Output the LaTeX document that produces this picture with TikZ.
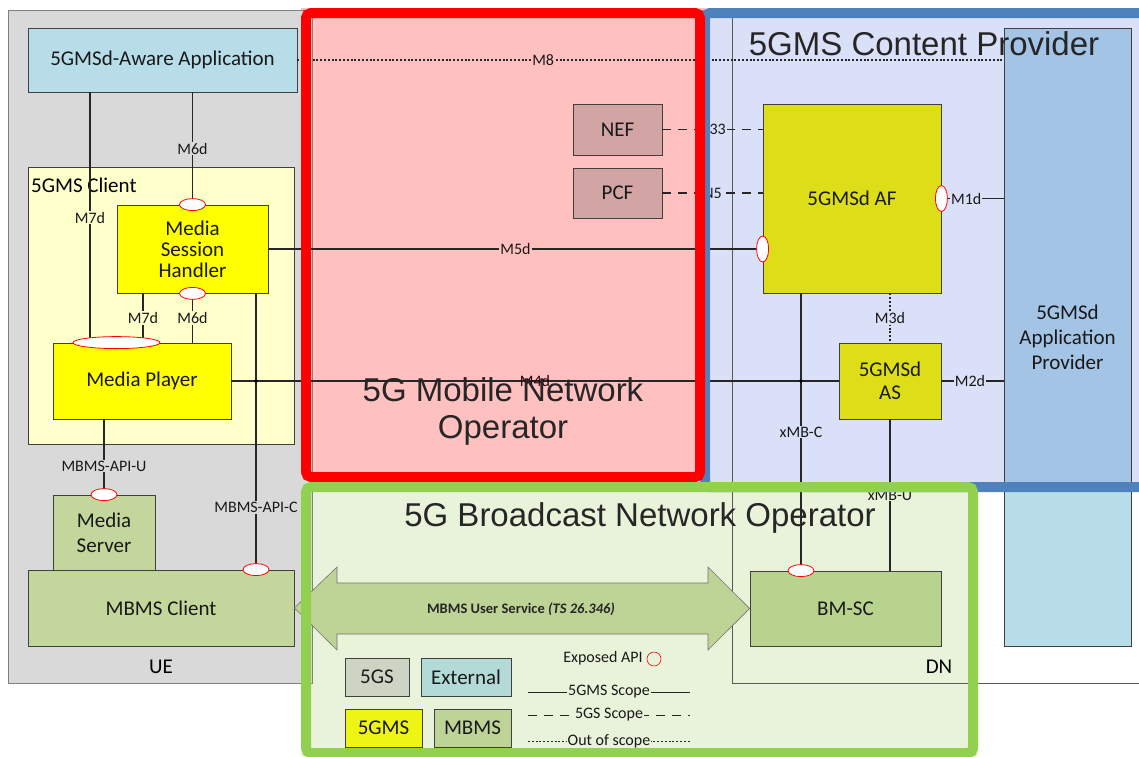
\documentclass[tikz,border=0pt]{standalone}
\usepackage{fontspec}
\setmainfont{Carlito}
\newfontfamily\arialf{Liberation Sans}
\usetikzlibrary{shapes.geometric}
\definecolor{uegray}{RGB}{217,217,217}
\definecolor{uebord}{RGB}{128,128,128}
\definecolor{appblue}{RGB}{183,221,232}
\definecolor{clientyel}{RGB}{255,255,204}
\definecolor{yel}{RGB}{255,255,0}
\definecolor{mbmsgreen}{RGB}{195,214,155}
\definecolor{pinkbg}{RGB}{255,192,192}
\definecolor{bluebg}{RGB}{218,224,248}
\definecolor{greenbg}{RGB}{232,243,218}
\definecolor{redb}{RGB}{255,0,0}
\definecolor{blueb}{RGB}{79,129,189}
\definecolor{greenb}{RGB}{146,208,80}
\definecolor{nefc}{RGB}{210,164,164}
\definecolor{afc}{RGB}{222,222,24}
\definecolor{apc}{RGB}{163,196,228}
\definecolor{bmscc}{RGB}{184,211,142}
\definecolor{arrowc}{RGB}{190,212,150}
\definecolor{leggs}{RGB}{205,212,195}
\definecolor{legext}{RGB}{180,218,215}
\definecolor{leggms}{RGB}{238,245,20}
\definecolor{legmbms}{RGB}{190,212,150}
\begin{document}
\begin{tikzpicture}[x=1pt,y=-1pt,
  box/.style={draw=black!75, line width=0.8pt, inner sep=0pt, align=center, font=\fontsize{21}{21}\selectfont, text=black!90},
  lbl/.style={font=\fontsize{16}{16}\selectfont, inner sep=1pt, text=black!90},
  conn/.style={line width=1.3pt, draw=black!85},
  dotline/.style={line width=1.2pt, draw=black!85, dash pattern=on 2pt off 1.8pt},
  dashline/.style={line width=1.3pt, draw=black!85, dash pattern=on 9pt off 7pt},
  api/.style={ellipse, draw=red, fill=white, line width=0.8pt, inner sep=0pt, minimum width=26pt, minimum height=12pt},
  title/.style={font=\arialf\fontsize{33}{37}\selectfont, text=black!85, align=center, inner sep=0pt}
]
\useasboundingbox (0,0) rectangle (1139,756);
\fill[white] (0,0) rectangle (1139,756);

% region fills
\fill[bluebg] (700,8) rectangle (1139,492);
\fill[pinkbg] (301,8) rectangle (705,482);
\fill[greenbg] (301,482) rectangle (978,756);

% UE and DN
\draw[fill=uegray, draw=uebord, line width=0.8pt] (8,10) rectangle (312,683);
\node[font=\fontsize{21}{21}\selectfont] (ue) at (161,667) {UE};
\draw[draw=black!65, line width=0.8pt] (732,10) -- (732,683) -- (1139,683);
\node[font=\fontsize{21}{21}\selectfont] (dn) at (939,667) {DN};

% nodes
\node[box, fill=appblue, minimum width=269, minimum height=64] (app) at (162.5,60) {5GMSd-Aware Application};
\node[box, fill=clientyel, minimum width=266, minimum height=277] (client) at (161,305.5) {};
\node[anchor=west, font=\fontsize{21}{21}\selectfont, inner sep=0pt] (clientlbl) at (31,185) {5GMS Client};
\node[box, fill=yel, minimum width=151, minimum height=88] (msh) at (192.5,249) {Media\\Session\\Handler};
\node[box, fill=yel, minimum width=178, minimum height=76] (mp) at (142,381) {Media Player};
\node[box, fill=mbmsgreen, minimum width=102, minimum height=75, font=\fontsize{21}{25}\selectfont] (ms) at (104,532.5) {Media\\Server};
\node[box, fill=mbmsgreen, minimum width=266, minimum height=76] (mc) at (161,608) {MBMS Client};
\node[box, fill=nefc, minimum width=89, minimum height=51] (nef) at (617.5,129.5) {NEF};
\node[box, fill=nefc, minimum width=89, minimum height=50] (pcf) at (617.5,193) {PCF};
\node[box, fill=afc, minimum width=178, minimum height=189] (af) at (852,198.5) {5GMSd AF};
\node[box, fill=afc, minimum width=102, minimum height=76, font=\fontsize{21}{23}\selectfont] (as) at (890,381) {5GMSd\\AS};
\fill[appblue] (1004,28) rectangle (1131,646);
\fill[apc] (1004,28) rectangle (1131,487);
\node[box, minimum width=127, minimum height=618, font=\fontsize{21}{25}\selectfont] (ap) at (1067.5,337) {5GMSd\\Application\\Provider};
\node[box, fill=bmscc, minimum width=191, minimum height=75] (bmsc) at (845.5,608.5) {BM-SC};

% connectors
\coordinate (c90) at (90,0);
\coordinate (c143) at (143,0);
\coordinate (c256) at (256,0);
\coordinate (c801) at (801,0);
\draw[dotline] (app.east) -- (ap.west |- app.east) node[lbl, fill=pinkbg, pos=0.348] {M8};
\draw[conn] (app.south -| c90) -- (mp.north -| c90) node[lbl, fill=clientyel, pos=0.5] {M7d};
\draw[conn] (app.south -| msh.north) -- (msh.north) node[lbl, fill=uegray, midway] {M6d};
\draw[conn] (msh.south -| c143) -- (mp.north -| c143) node[lbl, fill=clientyel, midway] {M7d};
\draw[conn] (msh.south) -- (mp.north -| msh.south) node[lbl, fill=clientyel, midway] {M6d};
\draw[conn] (msh.east) -- (af.west |- msh.east) node[lbl, fill=pinkbg, midway] {M5d};
\draw[conn] (msh.south -| c256) -- (mc.north -| c256) node[lbl, fill=uegray, pos=0.776] {MBMS-API-C};
\draw[conn] (mp.east) -- (as.west) node[lbl, midway, text=black!80!red] {M4d};
\draw[conn] (mp.south -| ms.north) -- (ms.north) node[lbl, fill=uegray, pos=0.62] {MBMS-API-U};
\draw[conn] (af.south -| c801) -- (bmsc.north -| c801) node[lbl, fill=bluebg, midway] {xMB-C};
\draw[dotline] (af.south -| as.north) -- (as.north) node[lbl, fill=bluebg, midway] {M3d};
\draw[conn] (as.south) -- (bmsc.north -| as.south) node[lbl, fill=greenbg, midway] {xMB-U};
\draw[conn] (af.east) -- (ap.west |- af.east) node[lbl, fill=bluebg, pos=0.4] {M1d};
\draw[conn] (as.east) -- (ap.west |- as.east) node[lbl, fill=bluebg, pos=0.46] {M2d};
\draw[dashline] (nef.east) -- (af.west |- nef.east) node[lbl, fill=bluebg, midway] {N33};
\draw[dashline] (pcf.east) -- (af.west |- pcf.east) node[lbl, fill=bluebg, midway] {N5};
\fill[black] (c256 |- mp.east) circle (1.8);
\fill[black] (c801 |- mp.east) circle (1.8);

% exposed API ellipses
\node[api] (a1) at (msh.north) {};
\node[api] (a2) at (msh.south) {};
\node[api, minimum width=87] (a3) at ([xshift=-25.5]mp.north) {};
\node[api] (a4) at (ms.north) {};
\node[api] (a5) at (mc.north -| c256) {};
\node[api, minimum width=12, minimum height=26] (a6) at (af.west |- msh.east) {};
\node[api, minimum width=12, minimum height=26] (a7) at (af.east) {};
\node[api] (a8) at (bmsc.north -| c801) {};

% MBMS user service arrow
\draw[fill=arrowc, draw=black!55, line width=0.6pt] (mc.east) -- (337,567) -- (337,583) -- (708,583) -- (708,567) -- (bmsc.west) -- (708,650) -- (708,634) -- (337,634) -- (337,650) -- cycle;
\node[font=\fontsize{14.5}{14.5}\selectfont\bfseries, text=black!85] (mus) at (521,609) {MBMS User Service \textit{(TS 26.346)}};

% legend
\node[box, fill=leggs, minimum width=64, minimum height=38] (l5gs) at (377,677) {5GS};
\node[box, fill=legext, minimum width=90, minimum height=38] (lext) at (466,677) {External};
\node[box, fill=leggms, minimum width=77, minimum height=38] (l5gms) at (383.5,728) {5GMS};
\node[box, fill=legmbms, minimum width=77, minimum height=38] (lmbms) at (472.5,728) {MBMS};
\node[lbl] (lexp) at (603,658) {Exposed API};
\node[api, fill=greenbg, line width=0.6pt, minimum width=14, minimum height=14] (lapi) at (654,659) {};
\coordinate (ls1) at (528,692); \coordinate (le1) at (690,692);
\coordinate (ls2) at (528,715); \coordinate (le2) at (690,715);
\coordinate (ls3) at (528,741); \coordinate (le3) at (690,741);
\draw[line width=1pt, black!85] (ls1) -- (le1) node[lbl, fill=greenbg, midway] {5GMS Scope};
\draw[dashline, line width=1pt] (ls2) -- (le2) node[lbl, fill=greenbg, midway] {5GS Scope};
\draw[dotline, line width=1pt] (ls3) -- (le3) node[lbl, fill=greenbg, midway] {Out of scope};

% region borders
\draw[blueb, line width=10pt, rounded corners=5pt] (705,13) rectangle (1170,487);
\draw[redb, line width=10pt, rounded corners=5pt] (306,13) rectangle (700,477);
\draw[greenb, line width=10pt, rounded corners=5pt] (306,487) rectangle (973,753);

% titles
\node[title] (t1) at (503,411.5) {5G Mobile Network\\Operator};
\node[title] (t2) at (924,44) {5GMS Content Provider};
\node[title] (t3) at (640,518) {5G Broadcast Network Operator};
\end{tikzpicture}
\end{document}
